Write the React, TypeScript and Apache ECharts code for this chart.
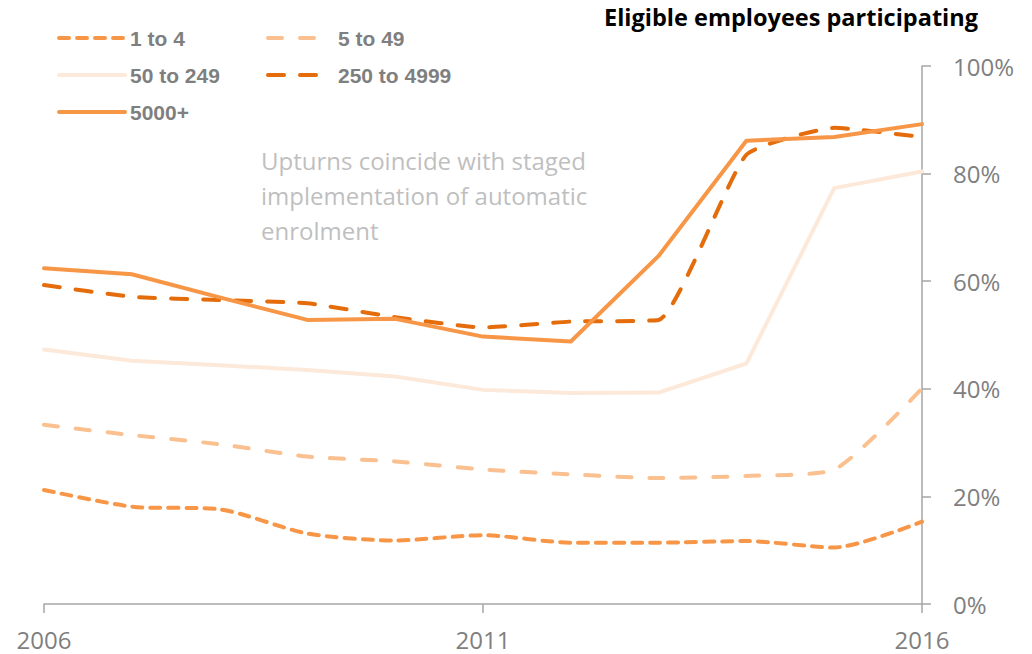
import React, { useEffect, useRef } from "react";
import * as echarts from "echarts";

const years = ["2006", "2007", "2008", "2009", "2010", "2011", "2012", "2013", "2014", "2015", "2016"];
const s1to4 = [21.2, 18.1, 17.6, 13.1, 11.8, 12.8, 11.4, 11.4, 11.7, 10.5, 15.3];
const s5to49 = [33.3, 31.4, 29.7, 27.4, 26.5, 25.0, 24.1, 23.4, 23.8, 25.0, 40.1];
const s50to249 = [47.3, 45.2, 44.4, 43.5, 42.3, 39.8, 39.2, 39.3, 44.7, 77.3, 80.4];
const s250to4999 = [59.3, 57.1, 56.5, 55.9, 53.3, 51.4, 52.5, 52.8, 83.5, 88.5, 86.8];
const s5000 = [62.4, 61.3, 57.0, 52.8, 53.0, 49.7, 48.8, 64.7, 86.1, 86.8, 89.2];
const seriesNames = ["1 to 4", "5 to 49", "50 to 249", "250 to 4999", "5000+"];
const yTicks = [0, 20, 40, 60, 80, 100];

const title = "Eligible employees participating";
const note = "Upturns coincide with staged\nimplementation of automatic\nenrolment";

export default function App() {
  const ref = useRef<HTMLDivElement>(null);
  useEffect(() => {
    if (!ref.current) return;
    const chart = echarts.init(ref.current, undefined, { renderer: "svg" });
    const legendText = {
      color: "#7F7F7F",
      fontFamily: "Liberation Sans, Arial, sans-serif",
      fontWeight: "bold",
      fontSize: 21,
      lineHeight: 22,
    };
    const mkLegend = (name: string, left: number, top: number, w: number, pad: number) => ({
      data: [name],
      left,
      top,
      padding: 0,
      itemWidth: w,
      itemHeight: 14,
      itemStyle: { opacity: 0 },
      lineStyle: { width: 4, cap: "round" },
      textStyle: { ...legendText, padding: [0, 0, 0, pad] },
    });
    const line = (name: string, data: number[], color: string, type: any, smooth: number | boolean, z: number) => ({
      name,
      type: "line",
      data,
      symbol: "none",
      smooth,
      z,
      lineStyle: { color, width: 4, type, cap: "round", join: "round" },
      itemStyle: { color },
    });
    chart.setOption({
      animation: false,
      grid: { left: 44, right: 110, top: 66, bottom: 50, containLabel: false },
      legend: [
        mkLegend(seriesNames[0], 57, 27, 66, 0),
        mkLegend(seriesNames[1], 266, 27, 51, 14),
        mkLegend(seriesNames[2], 57, 64, 66, 0),
        mkLegend(seriesNames[3], 266, 64, 51, 14),
        mkLegend(seriesNames[4], 57, 101, 66, 0),
      ],
      xAxis: {
        type: "category",
        data: years,
        boundaryGap: false,
        axisLine: { lineStyle: { color: "#A6A6A6", width: 1.5 } },
        axisTick: { interval: 4, length: 9, lineStyle: { color: "#A6A6A6", width: 1.5 } },
        axisLabel: {
          interval: 4,
          color: "#7F7F7F",
          fontFamily: "Open Sans, sans-serif",
          fontSize: 24,
          lineHeight: 24,
          margin: 23,
        },
      },
      yAxis: {
        type: "value",
        position: "right",
        min: yTicks[0],
        max: yTicks[yTicks.length - 1],
        interval: 20,
        splitLine: { show: false },
        axisLine: { show: true, lineStyle: { color: "#A6A6A6", width: 1.5 } },
        axisTick: { show: true, length: 9, lineStyle: { color: "#A6A6A6", width: 1.5 } },
        axisLabel: {
          formatter: "{value}%",
          color: "#7F7F7F",
          fontFamily: "Open Sans, sans-serif",
          fontSize: 24,
          margin: 31,
        },
      },
      graphic: [
        {
          type: "text",
          right: 1032 - 978,
          top: 5,
          style: {
            text: title,
            fill: "#000000",
            font: "bold 23.5px 'Open Sans', sans-serif",
          },
        },
        {
          type: "text",
          left: 261,
          top: 143,
          style: {
            text: note,
            fill: "#BFBFBF",
            font: "24px 'Open Sans', sans-serif",
            lineHeight: 35,
          },
        },
      ],
      series: [
        line(seriesNames[0], s1to4, "#F79646", [10, 8], 0.25, 2),
        line(seriesNames[1], s5to49, "#FAC090", [14, 18], 0.2, 2),
        line(seriesNames[2], s50to249, "#FDE9D9", "solid", false, 1),
        line(seriesNames[3], s250to4999, "#E46C0A", [16, 16], 0.15, 3),
        line(seriesNames[4], s5000, "#F79646", "solid", false, 4),
      ],
    });
    return () => chart.dispose();
  }, []);
  return (
    <div
      ref={ref}
      style={{ position: "fixed", left: 0, top: 0, width: 1032, height: 654, background: "#fff" }}
    />
  );
}
